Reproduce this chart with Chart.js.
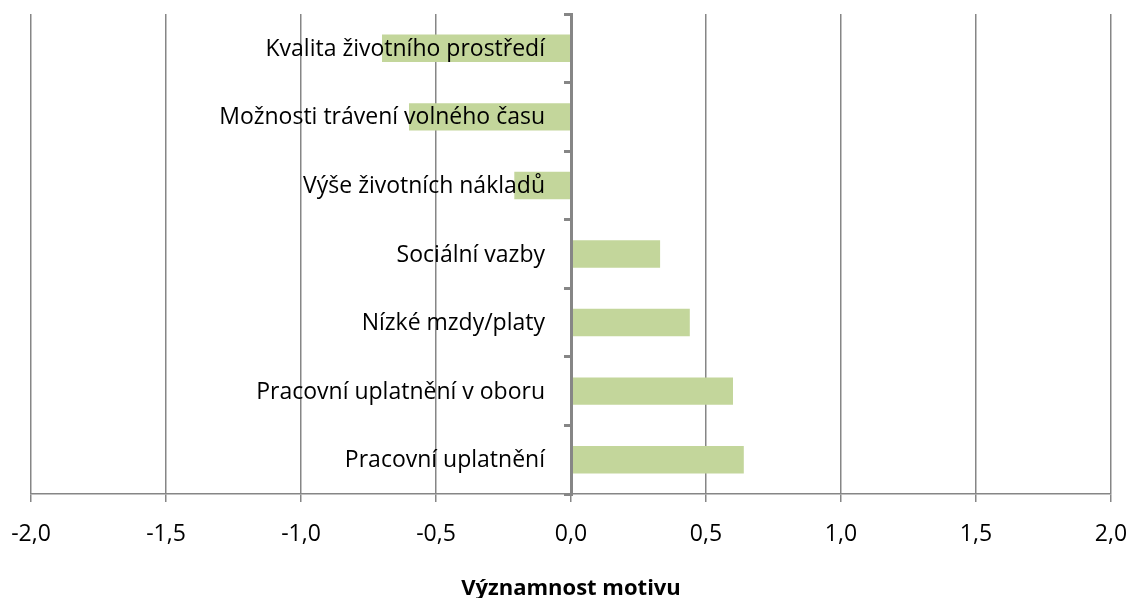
<!DOCTYPE html>
<html lang="cs">
  <head>
    <meta charset="UTF-8" />
    <title>Významnost motivu</title>
    <script src="https://cdn.jsdelivr.net/npm/chart.js"></script>
    <style>
      body { margin: 0; background: #fff; }
      #wrap { width: 1131px; height: 598px; }
    </style>
  </head>
  <body>
    <div id="wrap"><canvas id="motivChart"></canvas></div>

    <script>
      // kategorie shora dolu
      const categories = [
        "Kvalita životního prostředí",
        "Možnosti trávení volného času",
        "Výše životních nákladů",
        "Sociální vazby",
        "Nízké mzdy/platy",
        "Pracovní uplatnění v oboru",
        "Pracovní uplatnění",
      ];
      const values = [-0.7, -0.6, -0.21, 0.33, 0.44, 0.6, 0.64];
      const xTickValues = [-2, -1.5, -1, -0.5, 0, 0.5, 1, 1.5, 2];
      const axisTitle = "Významnost motivu";

      const gray = "#868686";

      // popisky kategorii kreslime vedle nulove osy, pres sloupce
      const categoryLabels = {
        id: "categoryLabels",
        afterDatasetsDraw(chart) {
          const ctx = chart.ctx;
          const x = chart.scales.x.getPixelForValue(0) - 26;
          ctx.save();
          ctx.font = "23px 'Open Sans'";
          ctx.fillStyle = "#000";
          ctx.textAlign = "right";
          ctx.textBaseline = "middle";
          categories.forEach((label, i) => {
            ctx.fillText(label, x, chart.scales.y.getPixelForValue(i) + 1);
          });
          ctx.restore();
        },
      };

      const ctx = document.getElementById("motivChart").getContext("2d");
      new Chart(ctx, {
        type: "bar",
        data: {
          labels: categories,
          datasets: [
            {
              data: values,
              backgroundColor: "#c3d69b",
              barPercentage: 0.4,
              categoryPercentage: 1.0,
            },
          ],
        },
        plugins: [categoryLabels],
        options: {
          indexAxis: "y",
          responsive: true,
          maintainAspectRatio: false,
          animation: false,
          layout: { padding: { top: 14, left: 31, right: 20, bottom: 0 } },
          plugins: {
            legend: { display: false },
            tooltip: { enabled: false },
          },
          scales: {
            x: {
              min: -2,
              max: 2,
              afterBuildTicks: (scale) => {
                scale.ticks = xTickValues.map((v) => ({ value: v }));
              },
              afterFit: (scale) => {
                // okraje resi layout.padding
                scale.paddingLeft = 0;
                scale.paddingRight = 0;
              },
              grid: { color: gray, lineWidth: 1.5, tickLength: 8 },
              border: { color: gray, width: 1.5 },
              ticks: {
                color: "#000",
                font: { family: "'Open Sans'", size: 23 },
                padding: 19,
                maxRotation: 0,
                callback: (v) => Number(v).toFixed(1).replace(".", ","),
              },
              title: {
                display: true,
                text: axisTitle,
                color: "#000",
                font: { family: "'Open Sans'", size: 22, weight: "bold" },
                padding: { top: 8, bottom: -4 },
              },
            },
            y: {
              position: { x: 0 },
              grid: {
                drawOnChartArea: false,
                color: gray,
                lineWidth: 3,
                tickLength: 6,
                z: 1,
              },
              border: { color: gray, width: 3, z: 1 },
              ticks: { display: false },
            },
          },
        },
      });
    </script>
  </body>
</html>
